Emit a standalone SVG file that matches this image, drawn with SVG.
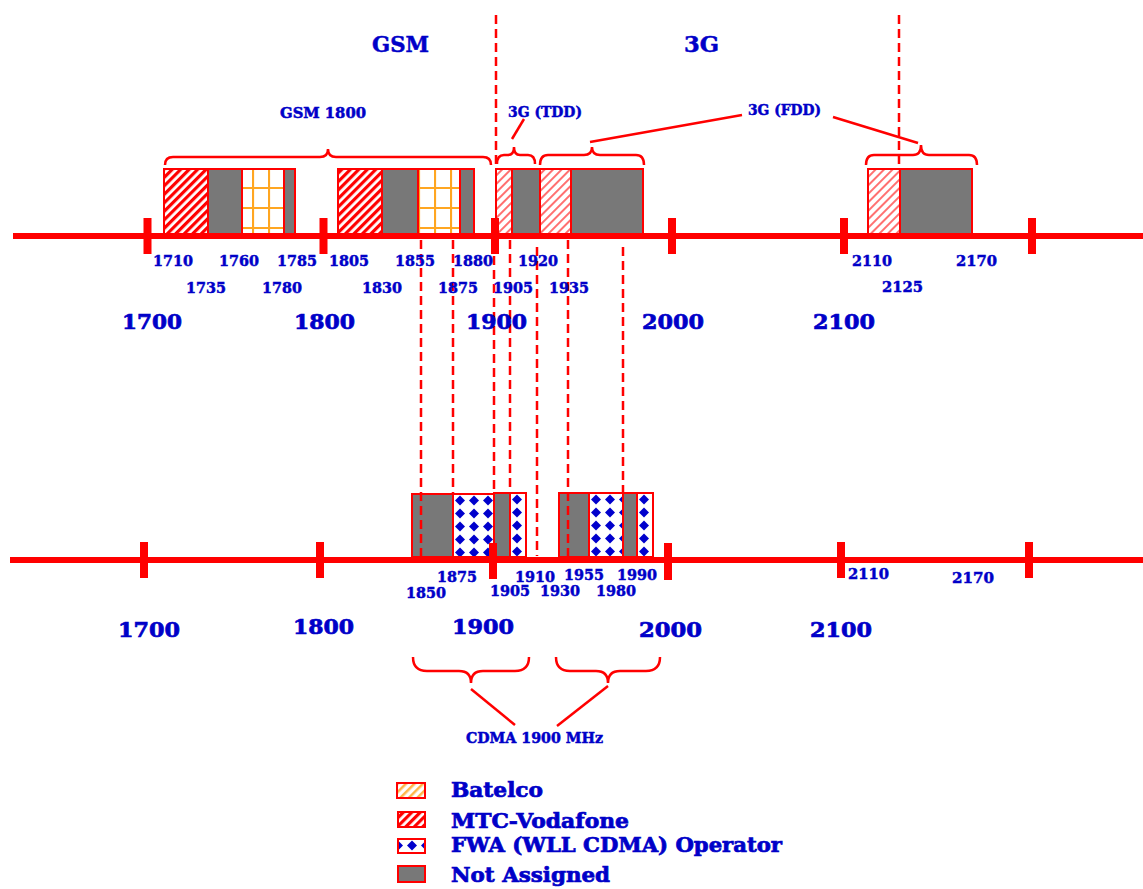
<svg xmlns="http://www.w3.org/2000/svg" width="1143" height="889" viewBox="0 0 1143 889">
<style>
text{font-family:"DejaVu Serif","Liberation Serif",serif;font-weight:bold;fill:#0000c8;stroke:#0000c8;stroke-width:0.5}
.s{font-size:15px}
.b{font-size:21px;stroke-width:0.7}
.l{font-size:20px;stroke-width:0.7}
.m{font-size:14px}
.seg{stroke:#ff0000;stroke-width:2}
.gray{fill:#787878}
.axis{stroke:#ff0000;stroke-width:6;fill:none}
.tick{fill:#ff0000}
.dash{stroke:#ff0000;stroke-width:2.5;stroke-dasharray:9 5;fill:none}
.brace{stroke:#ff0000;stroke-width:2.5;fill:none}
</style>
<defs>
<pattern id="hatchRed" width="6" height="6" patternUnits="userSpaceOnUse" patternTransform="rotate(45)"><rect width="6" height="6" fill="#fff"/><rect width="3.2" height="6" fill="#ff0000"/></pattern>
<pattern id="hatchLight" width="6" height="6" patternUnits="userSpaceOnUse" patternTransform="rotate(45)"><rect width="6" height="6" fill="#fff"/><rect width="2" height="6" fill="#ff7070"/></pattern>
<pattern id="hatchOrange" width="6" height="6" patternUnits="userSpaceOnUse" patternTransform="rotate(45)"><rect width="6" height="6" fill="#fff"/><rect width="2.5" height="6" fill="#ffb547"/></pattern>
<pattern id="grid" width="16" height="20" patternUnits="userSpaceOnUse"><rect width="16" height="20" fill="#fff"/><path d="M1,0V20M0,1H16" stroke="#ffa621" stroke-width="2.2"/></pattern>
<pattern id="dia" width="14" height="13" patternUnits="userSpaceOnUse"><rect width="14" height="13" fill="#fff"/><path d="M7,1.5L12,6.5L7,11.5L2,6.5Z" fill="#0000cc"/></pattern>
</defs>
<rect width="1143" height="889" fill="#fff"/>

<!-- Top bars -->
<g id="bar-gsm1800-a">
<rect class="seg" x="164" y="169" width="44" height="67" fill="url(#hatchRed)"/>
<rect class="seg gray" x="208" y="169" width="34" height="67"/>
<g transform="translate(252,187)"><rect class="seg" x="-10" y="-18" width="42" height="67" fill="url(#grid)"/></g>
<rect class="seg gray" x="284" y="169" width="11" height="67"/>
</g>
<g id="bar-gsm1800-b">
<rect class="seg" x="338" y="169" width="44" height="67" fill="url(#hatchRed)"/>
<rect class="seg gray" x="382" y="169" width="36" height="67"/>
<g transform="translate(434,187)"><rect class="seg" x="-16" y="-18" width="42" height="67" fill="url(#grid)"/></g>
<rect class="seg gray" x="460" y="169" width="14" height="67"/>
</g>
<g id="bar-3g-tdd">
<rect class="seg" x="496" y="169" width="16" height="67" fill="url(#hatchLight)"/>
<rect class="seg gray" x="512" y="169" width="28" height="67"/>
</g>
<g id="bar-3g-fdd-a">
<rect class="seg" x="540" y="169" width="31" height="67" fill="url(#hatchLight)"/>
<rect class="seg gray" x="571" y="169" width="72" height="67"/>
</g>
<g id="bar-3g-fdd-b">
<rect class="seg" x="868" y="169" width="32" height="67" fill="url(#hatchLight)"/>
<rect class="seg gray" x="900" y="169" width="72" height="67"/>
</g>

<!-- Bottom bars -->
<g id="bar-cdma-a">
<rect class="seg gray" x="412" y="494" width="41" height="63"/>
<g transform="translate(453,494)"><rect class="seg" x="0" y="0" width="41" height="63" fill="url(#dia)"/></g>
<rect class="seg gray" x="494" y="493" width="16" height="64"/>
<g transform="translate(510,493)"><rect class="seg" x="0" y="0" width="16" height="64" fill="url(#dia)"/></g>
</g>
<g id="bar-cdma-b">
<rect class="seg gray" x="559" y="493" width="30" height="64"/>
<g transform="translate(589,493)"><rect class="seg" x="0" y="0" width="34" height="64" fill="url(#dia)"/></g>
<rect class="seg gray" x="623" y="493" width="14" height="64"/>
<g transform="translate(637,493)"><rect class="seg" x="0" y="0" width="16" height="64" fill="url(#dia)"/></g>
</g>

<!-- Axes -->
<g id="axis-top">
<line class="axis" x1="13" y1="236" x2="1143" y2="236"/>
<rect class="tick" x="143.5" y="218" width="8" height="36"/>
<rect class="tick" x="319.5" y="218" width="8" height="36"/>
<rect class="tick" x="491" y="218" width="8" height="36"/>
<rect class="tick" x="668" y="218" width="8" height="36"/>
<rect class="tick" x="840" y="218" width="8" height="36"/>
<rect class="tick" x="1028" y="218" width="8" height="36"/>
</g>
<g id="axis-bottom">
<line class="axis" x1="10" y1="560" x2="1143" y2="560"/>
<rect class="tick" x="140" y="542" width="8" height="36"/>
<rect class="tick" x="316" y="542" width="8" height="36"/>
<rect class="tick" x="489" y="543" width="8" height="36"/>
<rect class="tick" x="664" y="543" width="8" height="37"/>
<rect class="tick" x="837" y="542" width="8" height="36"/>
<rect class="tick" x="1025" y="542" width="8" height="36"/>
</g>

<!-- Connectors -->
<g id="connectors">
<line class="dash" x1="496" y1="15" x2="496" y2="168"/>
<line class="dash" x1="899" y1="15" x2="899" y2="168"/>
<line class="dash" x1="421" y1="240" x2="421" y2="556"/>
<line class="dash" x1="453" y1="240" x2="453" y2="494"/>
<line class="dash" x1="494" y1="256" x2="494" y2="492"/>
<line class="dash" x1="510" y1="240" x2="510" y2="492"/>
<line class="dash" x1="537" y1="247" x2="537" y2="556"/>
<line class="dash" x1="568" y1="240" x2="568" y2="556"/>
<line class="dash" x1="623" y1="247" x2="623" y2="492"/>
<path class="brace" d="M165,165 Q165,157 173,157 L320,157 Q328,157 328,149 Q328,157 336,157 L483,157 Q491,157 491,165"/>
<path class="brace" d="M497,164 Q497,155 504,155 L508,155 Q514,155 514,147 Q514,155 520,155 L528,155 Q535,155 535,164"/>
<path class="brace" d="M540,165 Q540,155 548,155 L584,155 Q592,155 592,147 Q592,155 600,155 L636,155 Q644,155 644,165"/>
<path class="brace" d="M866,165 Q866,155 874,155 L913,155 Q921,155 921,145 Q921,155 929,155 L969,155 Q977,155 977,165"/>
<path class="brace" d="M413,657 Q413,671 427,671 L459,671 Q471,671 471,683 Q471,671 483,671 L515,671 Q529,671 529,657"/>
<path class="brace" d="M556,657 Q556,671 570,671 L596,671 Q608,671 608,683 Q608,671 620,671 L646,671 Q660,671 660,657"/>
<line class="brace" x1="512" y1="139" x2="524" y2="119"/>
<line class="brace" x1="590" y1="142" x2="742" y2="115"/>
<line class="brace" x1="833" y1="117" x2="918" y2="143"/>
<line class="brace" x1="471" y1="689" x2="515" y2="725"/>
<line class="brace" x1="608" y1="686" x2="557" y2="726"/>
</g>

<!-- Labels -->
<g id="labels-top">
<text x="372" y="52" font-size="22" stroke-width="0.7" textLength="57" lengthAdjust="spacingAndGlyphs">GSM</text>
<text x="684" y="52" font-size="22" stroke-width="0.7" textLength="35" lengthAdjust="spacingAndGlyphs">3G</text>
<text class="m" x="280" y="118" textLength="86" lengthAdjust="spacingAndGlyphs">GSM 1800</text>
<text class="m" x="508" y="116.5" textLength="74" lengthAdjust="spacingAndGlyphs">3G (TDD)</text>
<text class="m" x="748" y="114.5" textLength="73" lengthAdjust="spacingAndGlyphs">3G (FDD)</text>
<text class="s" x="153" y="265.5" textLength="40" lengthAdjust="spacingAndGlyphs">1710</text>
<text class="s" x="219" y="265.5" textLength="40" lengthAdjust="spacingAndGlyphs">1760</text>
<text class="s" x="277" y="265.5" textLength="40" lengthAdjust="spacingAndGlyphs">1785</text>
<text class="s" x="329" y="265.5" textLength="40" lengthAdjust="spacingAndGlyphs">1805</text>
<text class="s" x="395" y="265.5" textLength="40" lengthAdjust="spacingAndGlyphs">1855</text>
<text class="s" x="453" y="265.5" textLength="40" lengthAdjust="spacingAndGlyphs">1880</text>
<text class="s" x="518" y="265.5" textLength="40" lengthAdjust="spacingAndGlyphs">1920</text>
<text class="s" x="852" y="265.5" textLength="40" lengthAdjust="spacingAndGlyphs">2110</text>
<text class="s" x="956" y="265.5" textLength="41" lengthAdjust="spacingAndGlyphs">2170</text>
<text class="s" x="186" y="293" textLength="40" lengthAdjust="spacingAndGlyphs">1735</text>
<text class="s" x="262" y="293" textLength="40" lengthAdjust="spacingAndGlyphs">1780</text>
<text class="s" x="362" y="293" textLength="40" lengthAdjust="spacingAndGlyphs">1830</text>
<text class="s" x="438" y="293" textLength="40" lengthAdjust="spacingAndGlyphs">1875</text>
<text class="s" x="493" y="293" textLength="40" lengthAdjust="spacingAndGlyphs">1905</text>
<text class="s" x="549" y="293" textLength="40" lengthAdjust="spacingAndGlyphs">1935</text>
<text class="s" x="882" y="292" textLength="41" lengthAdjust="spacingAndGlyphs">2125</text>
<text class="b" x="122" y="329" textLength="60" lengthAdjust="spacingAndGlyphs">1700</text>
<text class="b" x="294" y="329" textLength="61" lengthAdjust="spacingAndGlyphs">1800</text>
<text class="b" x="466" y="329" textLength="61" lengthAdjust="spacingAndGlyphs">1900</text>
<text class="b" x="642" y="329" textLength="62" lengthAdjust="spacingAndGlyphs">2000</text>
<text class="b" x="813" y="329" textLength="62" lengthAdjust="spacingAndGlyphs">2100</text>
</g>
<g id="labels-bottom">
<text class="s" x="437" y="582" textLength="40" lengthAdjust="spacingAndGlyphs">1875</text>
<text class="s" x="406" y="598" textLength="40" lengthAdjust="spacingAndGlyphs">1850</text>
<text class="s" x="515" y="582" textLength="40" lengthAdjust="spacingAndGlyphs">1910</text>
<text class="s" x="490" y="596" textLength="40" lengthAdjust="spacingAndGlyphs">1905</text>
<text class="s" x="564" y="580" textLength="40" lengthAdjust="spacingAndGlyphs">1955</text>
<text class="s" x="540" y="596" textLength="40" lengthAdjust="spacingAndGlyphs">1930</text>
<text class="s" x="617" y="580" textLength="40" lengthAdjust="spacingAndGlyphs">1990</text>
<text class="s" x="596" y="596" textLength="40" lengthAdjust="spacingAndGlyphs">1980</text>
<text class="s" x="848" y="579" textLength="41" lengthAdjust="spacingAndGlyphs">2110</text>
<text class="s" x="952" y="583" textLength="42" lengthAdjust="spacingAndGlyphs">2170</text>
<text class="b" x="118" y="637" textLength="62" lengthAdjust="spacingAndGlyphs">1700</text>
<text class="b" x="293" y="634" textLength="61" lengthAdjust="spacingAndGlyphs">1800</text>
<text class="b" x="452" y="634" textLength="62" lengthAdjust="spacingAndGlyphs">1900</text>
<text class="b" x="639" y="637" textLength="63" lengthAdjust="spacingAndGlyphs">2000</text>
<text class="b" x="810" y="637" textLength="62" lengthAdjust="spacingAndGlyphs">2100</text>
<text class="m" x="466" y="743" textLength="137" lengthAdjust="spacingAndGlyphs">CDMA 1900 MHz</text>
</g>

<!-- Legend -->
<g id="legend-batelco">
<rect class="seg" x="397" y="783" width="28" height="15" fill="url(#hatchOrange)" stroke-width="2.5"/>
<text class="l" x="451" y="797" textLength="92" lengthAdjust="spacingAndGlyphs">Batelco</text>
</g>
<g id="legend-mtc">
<rect class="seg" x="398" y="812" width="27" height="15" fill="url(#hatchRed)" stroke-width="2.5"/>
<text class="l" x="451" y="827.5" textLength="178" lengthAdjust="spacingAndGlyphs">MTC-Vodafone</text>
</g>
<g id="legend-fwa">
<g transform="translate(405,839)"><rect class="seg" x="-7" y="0" width="27" height="14" fill="url(#dia)" stroke-width="2.5"/></g>
<text class="l" x="451" y="852" textLength="331" lengthAdjust="spacingAndGlyphs">FWA (WLL CDMA) Operator</text>
</g>
<g id="legend-na">
<rect class="seg gray" x="398" y="866" width="27" height="16" stroke-width="2.5"/>
<text class="l" x="451" y="882" textLength="159" lengthAdjust="spacingAndGlyphs">Not Assigned</text>
</g>
</svg>
